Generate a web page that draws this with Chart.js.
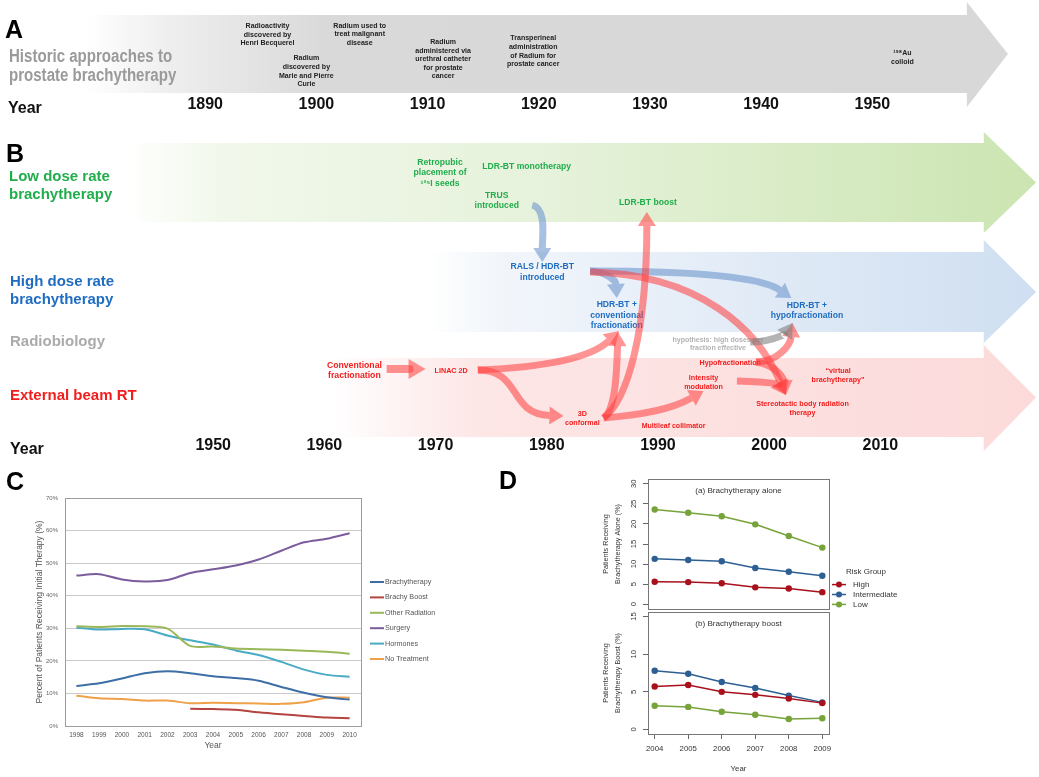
<!DOCTYPE html>
<html><head><meta charset="utf-8">
<script src="https://cdn.jsdelivr.net/npm/chart.js@4.4.0/dist/chart.umd.min.js"></script>
<style>
html,body{margin:0;padding:0;background:#fff;width:1039px;height:777px;overflow:hidden;position:relative;}
canvas{position:absolute;}
</style></head><body>
<canvas id="chA" width="1039" height="117" style="left:0;top:0"></canvas>
<canvas id="chB" width="1039" height="338" style="left:0;top:120px"></canvas>
<canvas id="chC" width="500" height="300" style="left:0;top:470px"></canvas>
<canvas id="chD1" width="445" height="145" style="left:495px;top:470px"></canvas>
<canvas id="chD2" width="445" height="175" style="left:495px;top:605px"></canvas>
<script>
// ---------------- DATA ----------------
// Panel A: historic timeline
const yearTicksA = [1890, 1900, 1910, 1920, 1930, 1940, 1950];
const historicLabels = ['Radioactivity\ndiscovered by\nHenri Becquerel', 'Radium\ndiscovered by\nMarie and Pierre\nCurie', 'Radium used to\ntreat malignant\ndisease', 'Radium\nadministered via\nurethral catheter\nfor prostate\ncancer', 'Transperineal\nadministration\nof Radium for\nprostate cancer', '¹⁹⁸Au\ncolloid'];
const historicYears = [1895.6, 1899.1, 1903.9, 1911.4, 1919.5, 1952.7];

// Panel B: modern timeline
const yearTicksB = [1950, 1960, 1970, 1980, 1990, 2000, 2010];
const ldrLabels = ['Retropubic\nplacement of\n¹²⁵I seeds', 'LDR-BT monotherapy', 'TRUS\nintroduced', 'LDR-BT boost'];
const ldrYears = [1970.4, 1978.2, 1975.5, 1989.1];
const hdrLabels = ['RALS / HDR-BT\nintroduced', 'HDR-BT +\nconventional\nfractionation', 'HDR-BT +\nhypofractionation'];
const hdrYears = [1979.6, 1986.3, 2003.4];
const radiobioLabels = ['hypothesis: high doses per\nfraction effective'];
const radiobioYears = [1995.4];
const ebrtLabels = ['Conventional\nfractionation', 'LINAC 2D', '3D\nconformal', 'Multileaf collimator', 'Intensity\nmodulation', 'Hypofractionation', '“virtual\nbrachytherapy”', 'Stereotactic body radiation\ntherapy'];
const ebrtYears = [1962.7, 1971.4, 1983.2, 1991.4, 1994.1, 1996.5, 2006.2, 2003.0];

// Panel C: percent of patients receiving initial therapy
const yearsC = ['1998','1999','2000','2001','2002','2003','2004','2005','2006','2007','2008','2009','2010'];
const brachytherapyC = [12.3, 13.1, 14.6, 16.2, 16.8, 16.2, 15.3, 14.7, 13.9, 12.0, 10.2, 8.8, 8.1];
const brachyBoostC  = [null, null, null, null, null, 5.3, 5.2, 5.0, 4.2, 3.6, 3.1, 2.6, 2.4];
const otherRadC     = [30.6, 30.4, 30.7, 30.6, 29.9, 24.6, 24.4, 23.8, 23.6, 23.4, 23.1, 22.8, 22.2];
const surgeryC      = [46.2, 46.6, 45.0, 44.4, 44.8, 47.0, 48.1, 49.3, 51.1, 53.8, 56.4, 57.5, 59.2];
const hormonesC     = [30.2, 29.6, 29.8, 29.7, 27.8, 26.3, 25.0, 23.2, 21.8, 19.7, 17.3, 15.7, 15.1];
const noTreatmentC  = [9.3, 8.5, 8.3, 7.8, 7.8, 7.0, 7.1, 7.0, 6.9, 6.8, 7.3, 8.7, 8.7];
const seriesNamesC = ['Brachytherapy', 'Brachy Boost', 'Other Radiation', 'Surgery', 'Hormones', 'No Treatment'];
const yTicksC = [0, 10, 20, 30, 40, 50, 60, 70];

// Panel D: risk groups
const yearsD = [2004, 2005, 2006, 2007, 2008, 2009];
const aloneHigh  = [5.6, 5.5, 5.2, 4.2, 3.9, 3.0];
const aloneInter = [11.3, 11.0, 10.7, 9.0, 8.1, 7.1];
const aloneLow   = [23.6, 22.8, 21.9, 19.9, 17.0, 14.1];
const boostHigh  = [5.7, 5.9, 5.0, 4.6, 4.1, 3.5];
const boostInter = [7.8, 7.4, 6.3, 5.5, 4.5, 3.6];
const boostLow   = [3.15, 3.0, 2.35, 1.95, 1.4, 1.5];
const riskGroups = ['High', 'Intermediate', 'Low'];
const yTicksD1 = [0, 5, 10, 15, 20, 25, 30];
const yTicksD2 = [0, 5, 10, 15];

// ---------------- LAYOUT / STYLE ----------------
const FF = '"Liberation Sans", Arial, Helvetica, sans-serif';
Chart.defaults.font.family = FF;
const B_TOP = 120;
const historicTextY = [34.5, 71, 34, 59, 51, 57.5];
const ldrTextY = [173, 167, 201, 203];
const hdrTextY = [272, 315.5, 310.5];
const radiobioTextY = [344];
const ebrtTextY = [371, 371, 419, 426, 383, 363, 376, 408.5];
const ebrtFont = [8.7, 7.2, 7.2, 7, 7.2, 7.2, 7.2, 7.2];
const ebrtLineH = [10, 9, 9, 9, 9, 9, 9, 9];
const COL = {green:'#22ad4c', blue:'#1f6dc0', red:'#f21d1d', gray:'#b3b3b3'};
const ARROW = {red:'rgba(255,60,60,0.55)', blue:'rgba(110,150,205,0.6)', gray:'rgba(130,130,130,0.6)'};
// connectors: x in years, y in page px (cubic bezier: start, c1, c2, tip)
const flowArrows = [
  {c:'blue', p:[[1978.7,205],[1980.0,209],[1979.6,236],[1979.6,262]]},
  {c:'blue', p:[[1983.9,271],[1985.5,272],[1986.2,281],[1986.3,298]]},
  {c:'blue', p:[[1983.9,271],[1992.0,271],[1999.0,275],[2002.0,298]]},
  {c:'red',  p:[[1965.6,369],[1966.8,369],[1968.0,369],[1969.1,369]]},
  {c:'red',  p:[[1973.8,370],[1978.0,368],[1983.6,362],[1986.5,331]]},
  {c:'red',  p:[[1973.8,370],[1977.8,370],[1976.5,414],[1981.5,416]]},
  {c:'red',  p:[[1985.1,418],[1987.3,400],[1989.0,330],[1989.0,212]]},
  {c:'red',  p:[[1985.1,418],[1986.2,410],[1986.3,370],[1986.4,332]]},
  {c:'red',  p:[[1985.1,418],[1988.4,415],[1991.1,410],[1994.1,391]]},
  {c:'red',  p:[[1983.9,272],[1993.8,274],[1999.0,330],[2001.5,395]]},
  {c:'red',  p:[[1998.8,362],[2000.8,362],[2001.9,345],[2002.1,323]]},
  {c:'red',  p:[[1998.8,362],[2000.8,365],[2001.3,380],[2001.5,395]]},
  {c:'red',  p:[[1997.1,381],[2001.0,382],[2001.0,386],[2001.5,395]]},
  {c:'gray', p:[[1998.3,342],[2000.3,342],[2001.5,333],[2002.1,323]]}
];

function drawLines(ctx, text, x, yc, size, color, lh, weight, sx) {
  const lines = text.split('\n');
  ctx.save();
  ctx.font = (weight || 'bold') + ' ' + size + 'px ' + FF;
  ctx.fillStyle = color; ctx.textAlign = 'center'; ctx.textBaseline = 'middle';
  const y0 = yc - (lines.length - 1) * lh / 2;
  lines.forEach((l, i) => {
    ctx.save(); ctx.translate(x, y0 + i * lh); ctx.scale(sx || 1, 1); ctx.fillText(l, 0, 0); ctx.restore();
  });
  ctx.restore();
}
function drawLeft(ctx, text, x, yb, size, color, sx) {
  ctx.save(); ctx.font = 'bold ' + size + 'px ' + FF; ctx.fillStyle = color;
  ctx.textAlign = 'left'; ctx.textBaseline = 'alphabetic';
  ctx.translate(x, yb); ctx.scale(sx || 1, 1); ctx.fillText(text, 0, 0); ctx.restore();
}
function band(ctx, xs, yOff, b) {
  const x0 = xs.getPixelForValue(b.start), xh = xs.getPixelForValue(b.head), xt = xs.getPixelForValue(b.tip);
  const g = ctx.createLinearGradient(x0, 0, xt, 0);
  b.stops.forEach(s => g.addColorStop(Math.min(1, Math.max(0, (xs.getPixelForValue(s[0]) - x0) / (xt - x0))), s[1]));
  ctx.fillStyle = g;
  ctx.beginPath();
  ctx.moveTo(x0, b.top - yOff); ctx.lineTo(xh, b.top - yOff); ctx.lineTo(xh, b.hTop - yOff);
  ctx.lineTo(xt, (b.top + b.bottom) / 2 - yOff); ctx.lineTo(xh, b.hBot - yOff); ctx.lineTo(xh, b.bottom - yOff);
  ctx.lineTo(x0, b.bottom - yOff); ctx.closePath(); ctx.fill();
}
function drawFlow(ctx, pts, color, w, headL, headW) {
  const [p0, p1, p2, p3] = pts;
  let dx = p3[0] - p2[0], dy = p3[1] - p2[1];
  const L = Math.hypot(dx, dy) || 1; dx /= L; dy /= L;
  const bx = p3[0] - dx * headL, by = p3[1] - dy * headL;
  ctx.save();
  ctx.strokeStyle = color; ctx.lineWidth = w; ctx.lineCap = 'butt';
  ctx.beginPath(); ctx.moveTo(p0[0], p0[1]);
  ctx.bezierCurveTo(p1[0], p1[1], p2[0], p2[1], bx, by); ctx.stroke();
  ctx.fillStyle = color; ctx.beginPath(); ctx.moveTo(p3[0], p3[1]);
  ctx.lineTo(bx - dy * headW, by + dx * headW); ctx.lineTo(bx + dy * headW, by - dx * headW);
  ctx.closePath(); ctx.fill(); ctx.restore();
}

// ---------------- PANEL A ----------------
const bandA = {start:1879.2, head:1958.5, tip:1962.2, top:15, bottom:93, hTop:2, hBot:107,
  stops:[[1879.2,'rgba(217,217,217,0)'],[1887,'rgba(217,217,217,0.45)'],[1901,'rgba(217,217,217,1)'],[1962.2,'rgba(216,216,216,1)']]};
const histPlugin = {
  id:'hist',
  beforeDraw(chart) { band(chart.ctx, chart.scales.x, 0, bandA); },
  afterDraw(chart) {
    const ctx = chart.ctx, xs = chart.scales.x;
    drawLeft(ctx, 'A', 5, 38, 25, '#000');
    drawLeft(ctx, 'Historic approaches to', 9, 62, 17.5, '#9a9a9a', 0.86);
    drawLeft(ctx, 'prostate brachytherapy', 9, 81, 17.5, '#9a9a9a', 0.86);
    drawLeft(ctx, 'Year', 8, 113, 16, '#111');
    historicLabels.forEach((t, i) => drawLines(ctx, t, xs.getPixelForValue(historicYears[i]), historicTextY[i], 8, '#222', 8.6, 'bold', 0.88));
  }
};
new Chart(document.getElementById('chA'), {
  type:'scatter', data:{datasets:[]},
  options:{responsive:false, animation:false, events:[],
    layout:{padding:{left:94, right:11, top:0, bottom:0}},
    plugins:{legend:{display:false}, tooltip:{enabled:false}},
    scales:{
      x:{type:'linear', min:1880, max:1964,
        afterBuildTicks:s => { s.ticks = yearTicksA.map(v => ({value:v})); },
        grid:{display:false, drawTicks:false}, border:{display:false},
        ticks:{padding:3, font:{size:16, weight:'bold'}, color:'#111', maxRotation:0, autoSkip:false, callback:v => String(v)}},
      y:{display:false, min:0, max:1}
    }},
  plugins:[histPlugin]
});

// ---------------- PANEL B ----------------
const bandsB = [
  {start:1942.5, head:2019.3, tip:2024.0, top:143, bottom:222, hTop:132, hBot:233,
   stops:[[1942.5,'rgba(238,247,230,0)'],[1951,'rgba(241,248,235,1)'],[1980,'rgba(230,242,219,1)'],[2024,'rgba(203,229,177,1)']]},
  {start:1969.5, head:2019.3, tip:2024.0, top:252, bottom:332, hTop:240, hBot:343,
   stops:[[1969.5,'rgba(225,234,246,0)'],[1981,'rgba(238,243,250,1)'],[2000,'rgba(224,234,246,1)'],[2024,'rgba(207,223,241,1)']]},
  {start:1960.5, head:2019.3, tip:2024.0, top:358, bottom:437, hTop:345, hBot:451,
   stops:[[1960.5,'rgba(253,228,228,0)'],[1974,'rgba(253,230,230,1)'],[2024,'rgba(252,218,218,1)']]}
];
const modernPlugin = {
  id:'modern',
  beforeDraw(chart) { const ctx = chart.ctx, xs = chart.scales.x; bandsB.forEach(b => band(ctx, xs, B_TOP, b)); },
  afterDraw(chart) {
    const ctx = chart.ctx, xs = chart.scales.x, o = B_TOP;
    drawLeft(ctx, 'B', 6, 162 - o, 25, '#000');
    drawLeft(ctx, 'Low dose rate', 9, 181 - o, 15, COL.green);
    drawLeft(ctx, 'brachytherapy', 9, 199 - o, 15, COL.green);
    drawLeft(ctx, 'High dose rate', 10, 286 - o, 15, COL.blue);
    drawLeft(ctx, 'brachytherapy', 10, 304 - o, 15, COL.blue);
    drawLeft(ctx, 'Radiobiology', 10, 346 - o, 15, '#ababab');
    drawLeft(ctx, 'External beam RT', 10, 399.5 - o, 15, COL.red);
    drawLeft(ctx, 'Year', 10, 454 - o, 16, '#111');
    ldrLabels.forEach((t, i) => drawLines(ctx, t, xs.getPixelForValue(ldrYears[i]), ldrTextY[i] - o, 8.6, COL.green, 10.2));
    hdrLabels.forEach((t, i) => drawLines(ctx, t, xs.getPixelForValue(hdrYears[i]), hdrTextY[i] - o, 8.6, COL.blue, 10.5));
    radiobioLabels.forEach((t, i) => drawLines(ctx, t, xs.getPixelForValue(radiobioYears[i]), radiobioTextY[i] - o, 7, COL.gray, 8.5));
    ebrtLabels.forEach((t, i) => drawLines(ctx, t, xs.getPixelForValue(ebrtYears[i]), ebrtTextY[i] - o, ebrtFont[i], COL.red, ebrtLineH[i]));
    flowArrows.forEach((a, i) => {
      const pts = a.p.map(p => [xs.getPixelForValue(p[0]), p[1] - o]);
      const big = i === 3;
      drawFlow(ctx, pts, ARROW[a.c], big ? 8 : 7, big ? 17 : 14, big ? 10 : 9);
    });
  }
};
new Chart(document.getElementById('chB'), {
  type:'scatter', data:{datasets:[]},
  options:{responsive:false, animation:false, events:[],
    layout:{padding:{left:102, right:3, top:0, bottom:0}},
    plugins:{legend:{display:false}, tooltip:{enabled:false}},
    scales:{
      x:{type:'linear', min:1940, max:2024,
        afterBuildTicks:s => { s.ticks = yearTicksB.map(v => ({value:v})); },
        grid:{display:false, drawTicks:false}, border:{display:false},
        ticks:{padding:3, font:{size:16, weight:'bold'}, color:'#111', maxRotation:0, autoSkip:false, callback:v => String(v)}},
      y:{display:false, min:0, max:1}
    }},
  plugins:[modernPlugin]
});

// ---------------- PANEL C ----------------
const colorsC = ['#3d6fa6', '#b5433f', '#9ab85a', '#7a5c9c', '#4aabc4', '#eea148'];
const seriesC = [brachytherapyC, brachyBoostC, otherRadC, surgeryC, hormonesC, noTreatmentC];
const cPlugin = {
  id:'cdeco',
  afterDraw(chart) {
    const ctx = chart.ctx, a = chart.chartArea;
    ctx.save();
    ctx.strokeStyle = '#9d9d9d'; ctx.lineWidth = 1;
    ctx.strokeRect(Math.round(a.left) + 0.5, Math.round(a.top) + 0.5, Math.round(a.right - a.left), Math.round(a.bottom - a.top));
    chart.data.datasets.forEach((ds, i) => {
      const y = a.top + 84 + i * 15.4;
      ctx.strokeStyle = ds.borderColor; ctx.lineWidth = 2;
      ctx.beginPath(); ctx.moveTo(a.right + 9, y); ctx.lineTo(a.right + 23, y); ctx.stroke();
      ctx.fillStyle = '#555'; ctx.font = '7.2px ' + FF; ctx.textAlign = 'left'; ctx.textBaseline = 'middle';
      ctx.fillText(ds.label, a.right + 24, y);
    });
    ctx.restore();
    drawLeft(ctx, 'C', 6, 20, 25, '#000');
  }
};
new Chart(document.getElementById('chC'), {
  type:'line',
  data:{labels:yearsC, datasets:seriesC.map((d, i) => ({label:seriesNamesC[i], data:d, borderColor:colorsC[i], backgroundColor:colorsC[i], borderWidth:2, pointRadius:0, tension:0.3, spanGaps:false}))},
  options:{responsive:false, animation:false, events:[],
    layout:{padding:{left:30, right:139, top:28, bottom:0}},
    plugins:{legend:{display:false}, tooltip:{enabled:false}},
    scales:{
      x:{offset:true, grid:{display:false, drawTicks:false}, border:{display:false},
        ticks:{font:{size:6.5}, color:'#555', padding:5, maxRotation:0, autoSkip:false},
        title:{display:true, text:'Year', font:{size:8.5}, color:'#555', padding:{top:0, bottom:19}},
        afterFit:s => { s.height = 44; }},
      y:{min:0, max:70,
        afterBuildTicks:s => { s.ticks = yTicksC.map(v => ({value:v})); },
        grid:{color:'#cacaca', drawTicks:false}, border:{display:false},
        ticks:{font:{size:6}, color:'#666', padding:7, callback:v => v + '%'},
        title:{display:true, text:'Percent of Patients Receiving Initial Therapy (%)', font:{size:8.5}, color:'#555', padding:{top:5, bottom:0}},
        afterFit:s => { s.width = 35; }}
    }},
  plugins:[cPlugin]
});

// ---------------- PANEL D ----------------
const colorsD = ['#a8101c', '#2d5f93', '#76a33a'];
function dDatasets(arrs) {
  return arrs.map((arr, i) => ({label:riskGroups[i], data:arr.map((v, j) => ({x:yearsD[j], y:v})),
    borderColor:colorsD[i], backgroundColor:colorsD[i], pointBackgroundColor:colorsD[i], pointBorderWidth:0,
    borderWidth:1.5, pointRadius:3.2, tension:0}));
}
function dPlugin(title, withLegend) {
  return {
    id:'ddeco',
    afterDraw(chart) {
      const ctx = chart.ctx, a = chart.chartArea, ys = chart.scales.y;
      ctx.save();
      ctx.strokeStyle = '#777'; ctx.lineWidth = 1;
      ctx.strokeRect(Math.round(a.left) + 0.5, Math.round(a.top) + 0.5, Math.round(a.right - a.left), Math.round(a.bottom - a.top));
      ctx.fillStyle = '#333'; ctx.font = '7.6px ' + FF; ctx.textAlign = 'center'; ctx.textBaseline = 'middle';
      ys.ticks.forEach(t => {
        ctx.save(); ctx.translate(a.left - 14, ys.getPixelForValue(t.value)); ctx.rotate(-Math.PI / 2);
        ctx.fillText(String(t.value), 0, 0); ctx.restore();
      });
      ctx.font = '8.1px ' + FF;
      ctx.fillText(title, (a.left + a.right) / 2, a.top + 12);
      if (withLegend) {
        ctx.textAlign = 'left'; ctx.font = '8px ' + FF; ctx.fillStyle = '#333';
        ctx.fillText('Risk Group', a.right + 17, 101.6);
        chart.data.datasets.forEach((ds, i) => {
          const y = 114.6 + i * 9.9;
          ctx.strokeStyle = ds.borderColor; ctx.lineWidth = 1.5;
          ctx.beginPath(); ctx.moveTo(a.right + 3, y); ctx.lineTo(a.right + 17, y); ctx.stroke();
          ctx.fillStyle = ds.borderColor; ctx.beginPath(); ctx.arc(a.right + 10, y, 3, 0, Math.PI * 2); ctx.fill();
          ctx.fillStyle = '#333'; ctx.fillText(ds.label, a.right + 24, y);
        });
        drawLeft(ctx, 'D', 4, 19, 25, '#000');
      }
      ctx.restore();
    }
  };
}
function dYAxis(min, max, ticks, titleLines) {
  return {min:min, max:max,
    afterBuildTicks:s => { s.ticks = ticks.map(v => ({value:v})); },
    grid:{drawOnChartArea:false, drawTicks:true, tickLength:5, color:'#666'}, border:{display:false},
    ticks:{display:false},
    title:{display:true, text:titleLines, font:{size:7.2, lineHeight:'12px'}, color:'#333', padding:{top:20, bottom:0}},
    afterFit:s => { s.width = 68; }};
}
new Chart(document.getElementById('chD1'), {
  type:'line',
  data:{datasets:dDatasets([aloneHigh, aloneInter, aloneLow])},
  options:{responsive:false, animation:false, events:[],
    layout:{padding:{left:85, right:111, top:9, bottom:6}},
    plugins:{legend:{display:false}, tooltip:{enabled:false}},
    scales:{
      x:{type:'linear', display:false, min:2003.8, max:2009.2},
      y:dYAxis(-1.2, 31.2, yTicksD1, ['Patients Receiving', 'Brachytherapy Alone (%)'])
    }},
  plugins:[dPlugin('(a) Brachytherapy alone', true)]
});
new Chart(document.getElementById('chD2'), {
  type:'line',
  data:{datasets:dDatasets([boostHigh, boostInter, boostLow])},
  options:{responsive:false, animation:false, events:[],
    layout:{padding:{left:85, right:111, top:7, bottom:0}},
    plugins:{legend:{display:false}, tooltip:{enabled:false}},
    scales:{
      x:{type:'linear', min:2003.8, max:2009.2,
        afterBuildTicks:s => { s.ticks = yearsD.map(v => ({value:v})); },
        grid:{drawOnChartArea:false, drawTicks:true, tickLength:5, color:'#666'}, border:{display:false},
        ticks:{font:{size:7.8}, color:'#333', padding:5.5, maxRotation:0, autoSkip:false, callback:v => String(v)},
        title:{display:true, text:'Year', font:{size:7.8}, color:'#333', padding:{top:0, bottom:6.5}},
        afterFit:s => { s.height = 46; }},
      y:dYAxis(-0.6, 15.6, yTicksD2, ['Patients Receiving', 'Brachytherapy Boost (%)'])
    }},
  plugins:[dPlugin('(b) Brachytherapy boost', false)]
});
</script>
</body></html>
